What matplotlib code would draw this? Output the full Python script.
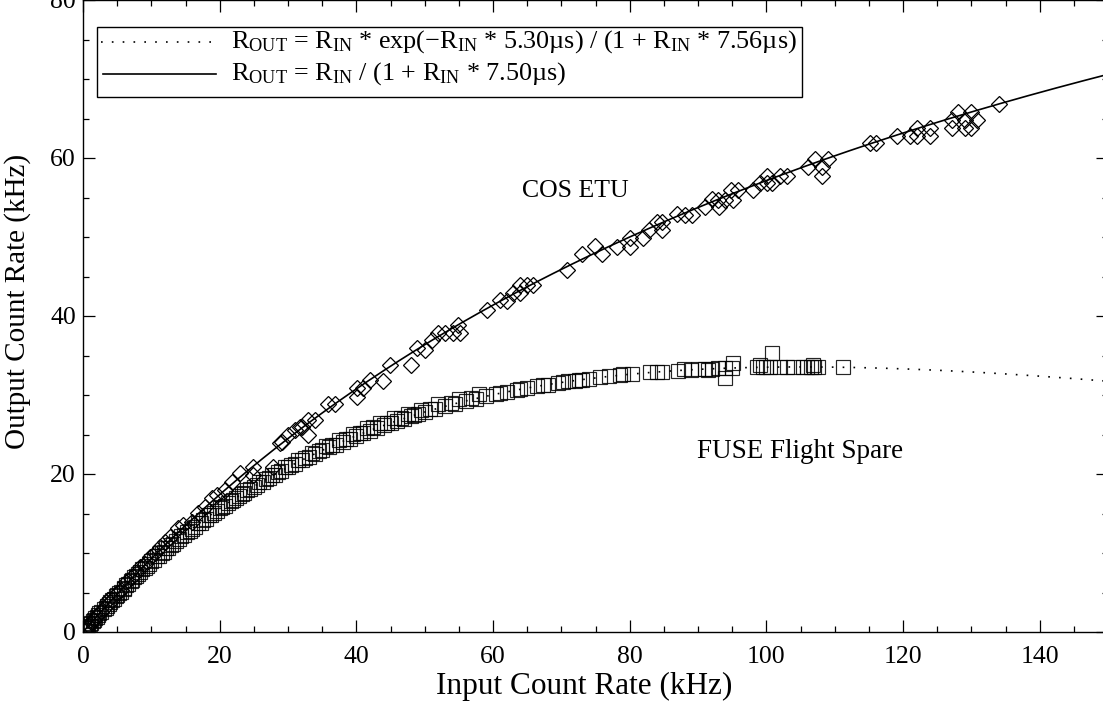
import numpy as np
import matplotlib
matplotlib.use("Agg")
import matplotlib.pyplot as plt
from matplotlib.ticker import MultipleLocator
from matplotlib.patches import Rectangle

plt.rcParams['font.family'] = ['Liberation Serif', 'DejaVu Serif']
plt.rcParams['mathtext.fontset'] = 'custom'
plt.rcParams['mathtext.rm'] = 'Liberation Serif'
plt.rcParams['mathtext.it'] = 'Liberation Serif:italic'

# ---------------- data (kHz) ----------------
cos_in = [0.3, 0.6, 0.9, 1.2, 1.6, 2.0, 2.6, 3.0, 3.7, 4.3, 5.0, 5.6, 6.3, 7.0, 7.7, 8.4,
          9.0, 9.8, 10.5, 11.3, 12.0, 12.8, 13.9, 14.6, 15.9, 16.8, 17.8, 18.9, 19.6, 20.8,
          21.8, 23.0, 24.9, 24.9, 27.8, 28.8, 29.1, 30.0, 31.0, 31.7, 32.0, 32.9, 33.9, 32.9,
          35.8, 36.9, 40.1, 40.1, 41.0, 42.0, 43.9, 44.9, 48.0, 48.9, 50.0, 51.1, 51.9, 53.0,
          54.1, 54.9, 55.1, 59.1, 61.0, 62.0, 62.9, 63.9, 63.9, 65.0, 65.8, 70.9, 73.0, 74.9,
          75.9, 78.1, 80.0, 80.0, 81.9, 82.9, 84.0, 84.8, 84.8, 86.9, 88.1, 89.1, 91.0, 92.0,
          92.9, 93.0, 93.9, 94.9, 95.1, 95.8, 98.0, 99.0, 100.1, 100.1, 100.9, 102.0, 103.0,
          106.1, 107.1, 108.1, 108.1, 109.0, 115.1, 116.1, 119.1, 121.0, 122.0, 122.0, 123.9,
          124.0, 127.1, 127.1, 128.0, 129.0, 129.0, 130.0, 130.0, 130.9, 134.0]
cos_out = [0.3, 0.6, 0.8, 1.3, 1.5, 2.1, 2.5, 3.1, 4.1, 4.0, 5.0, 5.3, 6.3, 6.8, 7.5, 8.2,
           8.6, 9.5, 10.0, 10.8, 11.4, 12.0, 13.2, 13.5, 13.9, 15.1, 15.8, 17.0, 17.4, 18.0,
           19.0, 20.1, 20.9, 19.9, 20.9, 23.9, 24.1, 24.9, 25.6, 25.9, 25.9, 26.8, 26.8, 24.9,
           28.9, 28.9, 30.9, 29.7, 30.9, 31.9, 31.8, 33.8, 33.8, 35.9, 35.7, 37.0, 37.8, 37.8,
           37.8, 38.9, 37.8, 40.8, 42.0, 41.9, 42.9, 43.9, 42.9, 43.9, 43.9, 45.8, 47.8, 48.9,
           47.8, 48.7, 49.9, 48.7, 49.9, 50.9, 51.9, 51.9, 50.9, 52.9, 52.8, 52.8, 53.8, 54.8,
           54.7, 53.8, 54.7, 55.9, 54.7, 55.9, 55.9, 56.8, 57.7, 56.8, 56.8, 57.7, 57.7,
           58.9, 59.9, 58.9, 57.7, 59.9, 61.9, 61.9, 62.8, 62.8, 63.8, 62.8, 63.8,
           62.8, 64.8, 63.8, 65.8, 64.8, 63.8, 65.8, 63.8, 64.8, 66.8]

fuse_in = [0.2, 0.5, 0.8, 1.1, 1.4, 1.8, 2.2, 2.6, 3.0, 3.5, 4.0, 4.5, 5.0, 5.5, 6.0, 6.6,
           7.2, 7.8, 8.4, 9.0, 9.7, 10.4, 11.1, 11.8, 12.5, 13.2, 14.0, 14.8, 15.6, 16.4, 17.2,
           18.0, 18.8, 19.6, 20.4, 21.2, 22.0, 22.8, 23.6, 24.5, 25.4, 26.3, 27.2, 28.1, 29.0,
           30.0, 31.0, 32.0, 33.0, 34.0, 35.0, 36.0, 37.0, 38.0, 39.0, 40.0, 41.0, 42.0, 43.0,
           44.0, 45.0, 46.0, 47.0, 48.0, 49.0, 50.0, 51.5, 53.0, 54.5, 56.0, 57.5, 59.0, 60.5,
           62.0, 63.5, 65.0, 66.5, 68.0, 69.5, 71.0, 72.0, 73.0, 74.0, 75.6, 77.0, 78.6, 80.3,
           83.0, 84.0, 84.7, 87.0, 89.0, 90.0, 91.0, 92.0, 92.9, 93.9, 94.0, 95.0, 95.1, 98.7,
           99.0, 99.5, 100.5, 100.9, 102.0, 103.0, 103.9, 105.3, 106.0, 106.5, 107.0, 107.5,
           111.2,
           0.6, 1.6, 2.4, 3.3, 4.2, 5.2, 6.3, 7.5, 8.7, 10.0, 11.5, 12.9, 14.4, 16.0, 17.6,
           19.2, 20.8, 22.4, 24.0, 25.8, 27.6, 29.5, 31.5, 33.5, 35.5, 37.5, 39.5, 41.5, 43.5,
           45.5, 47.5, 49.5, 52.0, 55.0, 58.0,
           1.0, 2.0, 3.8, 4.8, 6.0, 7.0, 8.0, 9.3, 10.8, 12.2, 13.6, 15.2, 16.8, 18.4, 20.0,
           21.6, 23.2, 25.0, 26.8, 28.6, 30.5, 32.5, 34.5, 36.5, 38.5, 40.5, 42.5, 44.5, 46.5,
           48.5, 50.8, 53.8, 56.8, 61.0, 64.0, 67.3, 70.2, 72.6, 79.0, 88.0, 91.5, 100.0, 106.8]
fuse_out = [0.2, 0.50, 0.79, 1.08, 1.37, 1.76, 2.14, 2.51, 2.88, 3.34, 3.79, 4.24, 4.69, 5.12,
            5.55, 6.06, 6.57, 7.07, 7.56, 8.05, 8.59, 9.11, 9.62, 10.12, 10.63, 11.14, 11.72,
            12.30, 12.82, 13.33, 13.84, 14.35, 14.86, 15.37, 15.85, 16.30, 16.75, 17.20, 17.64,
            18.14, 18.62, 19.05, 19.49, 19.93, 20.37, 20.86, 21.29, 21.71, 22.14, 22.57, 22.99,
            23.36, 23.73, 24.11, 24.48, 24.85, 25.17, 25.49, 25.81, 26.14, 26.46, 26.74, 27.02,
            27.29, 27.57, 27.85, 28.20, 28.56, 28.91, 29.23, 29.54, 29.84, 30.12, 30.38, 30.64,
            30.89, 31.10, 31.32, 31.53, 31.71, 31.83, 31.94, 32.06, 32.23, 32.35, 32.50, 32.65,
            32.85, 32.92, 32.97, 33.09, 33.20, 33.25, 33.29, 33.32, 33.36, 32.2, 33.39, 33.43,
            34.0, 33.49, 33.8, 33.51, 33.52, 35.3, 33.54, 33.55, 33.55, 33.56, 33.56, 33.56,
            33.56, 33.56, 33.54,
            0.65, 1.5, 2.35, 3.1, 4.05, 4.9, 5.9, 7.0, 7.95, 9.0, 10.0, 11.0, 12.1, 13.1, 14.2,
            15.1, 16.0, 17.0, 17.95, 19.0, 19.9, 20.9, 21.8, 22.7, 23.5, 24.35, 25.05, 25.8, 26.4,
            27.05, 27.6, 28.1, 28.85, 29.55, 30.1,
            1.0, 1.9, 3.55, 4.5, 5.5, 6.4, 7.3, 8.3, 9.6, 10.6, 11.5, 12.6, 13.8, 14.8, 15.7,
            16.6, 17.5, 18.4, 19.4, 20.3, 21.1, 22.0, 22.9, 23.7, 24.4, 25.2, 25.9, 26.5, 27.1,
            27.5, 28.2, 29.0, 29.6, 30.3, 30.8, 31.3, 31.7, 31.9, 32.6, 33.3, 33.2, 33.6, 33.8]

# dead-time model parameters from the legend (microseconds -> per kHz: 1e-3)
tau_fuse_exp = 5.30
tau_fuse_den = 7.56
tau_cos = 7.50

# ---------------- figure ----------------
W, H = 1103, 704
fig = plt.figure(figsize=(W / 100, H / 100), dpi=100)
ax = fig.add_axes([83 / W, (H - 632) / H, 1025 / W, 632 / H])

rin = np.linspace(0, 150, 400)
fit_fuse = rin * np.exp(-rin * tau_fuse_exp * 1e-3) / (1 + rin * tau_fuse_den * 1e-3)
fit_cos = rin / (1 + rin * tau_cos * 1e-3)

ax.plot(rin, fit_fuse, color='black', lw=1.2, linestyle=(0, (1, 5.5)), zorder=2)
ax.plot(rin, fit_cos, color='black', lw=1.2, zorder=2)

ax.plot(fuse_in, fuse_out, linestyle='none', marker='s', ms=10.2, mfc='none',
        mec='black', mew=0.85, alpha=0.85, zorder=3)
ax.plot(cos_in, cos_out, linestyle='none', marker='D', ms=7.8, mfc='none',
        mec='black', mew=0.9, zorder=4)

ax.set_xlim(0, 150)
ax.set_ylim(0, 80)
ax.xaxis.set_major_locator(MultipleLocator(20))
ax.xaxis.set_minor_locator(MultipleLocator(5))
ax.yaxis.set_major_locator(MultipleLocator(20))
ax.yaxis.set_minor_locator(MultipleLocator(5))
ax.tick_params(which='both', direction='in', top=True, right=True, color='black',
               width=0.9, labelsize=18.5)
ax.tick_params(which='major', length=8.6)
ax.tick_params(which='minor', length=4.3)
ax.tick_params(axis='x', which='major', pad=10)
ax.tick_params(axis='y', which='major', pad=5)
for s in ax.spines.values():
    s.set_linewidth(1.0)
    s.set_color('black')

fig.text(584 / W, 1 - 686 / H, 'Input Count Rate (kHz)', ha='center', va='center',
         fontsize=22.5)
fig.text(18 / W, 1 - 301 / H, 'Output Count Rate (kHz)', ha='center', va='center',
         rotation=90, fontsize=21)

ax.text(72.0, 55.8, 'COS ETU', ha='center', va='center', fontsize=18.5)
ax.text(105.0, 22.8, 'FUSE Flight Spare', ha='center', va='center', fontsize=19.5)

# legend box drawn by hand
tr = ax.transAxes
def axx(px):
    return (px - 83) / 1025
def axy(py):
    return (632 - py) / 632

ax.add_patch(Rectangle((axx(97), axy(97)), axx(802) - axx(97), axy(27) - axy(97),
                       transform=tr, fill=True, facecolor='white', edgecolor='black',
                       lw=1.0, zorder=6))
ax.plot([axx(101), axx(216)], [axy(42), axy(42)], transform=tr, color='black', lw=1.2,
        linestyle=(0, (1, 5.5)), zorder=7)
ax.plot([axx(103), axx(216)], [axy(74), axy(74)], transform=tr, color='black', lw=1.2,
        zorder=7)
sub_out = r'$_{\mathrm{OUT}}$'
sub_in = r'$_{\mathrm{IN}}$'
line1 = ('R' + sub_out + ' = R' + sub_in + ' * exp(\u2212R' + sub_in +
         ' * 5.30\u00b5s) / (1 + R' + sub_in + ' * 7.56\u00b5s)')
line2 = 'R' + sub_out + ' = R' + sub_in + ' / (1 + R' + sub_in + ' * 7.50\u00b5s)'
ax.text(axx(231), axy(42), line1, transform=tr, ha='left', va='center', fontsize=18.8,
        zorder=8)
ax.text(axx(231), axy(74), line2, transform=tr, ha='left', va='center', fontsize=18.8,
        zorder=8)

fig.savefig('out.png', dpi=100)
